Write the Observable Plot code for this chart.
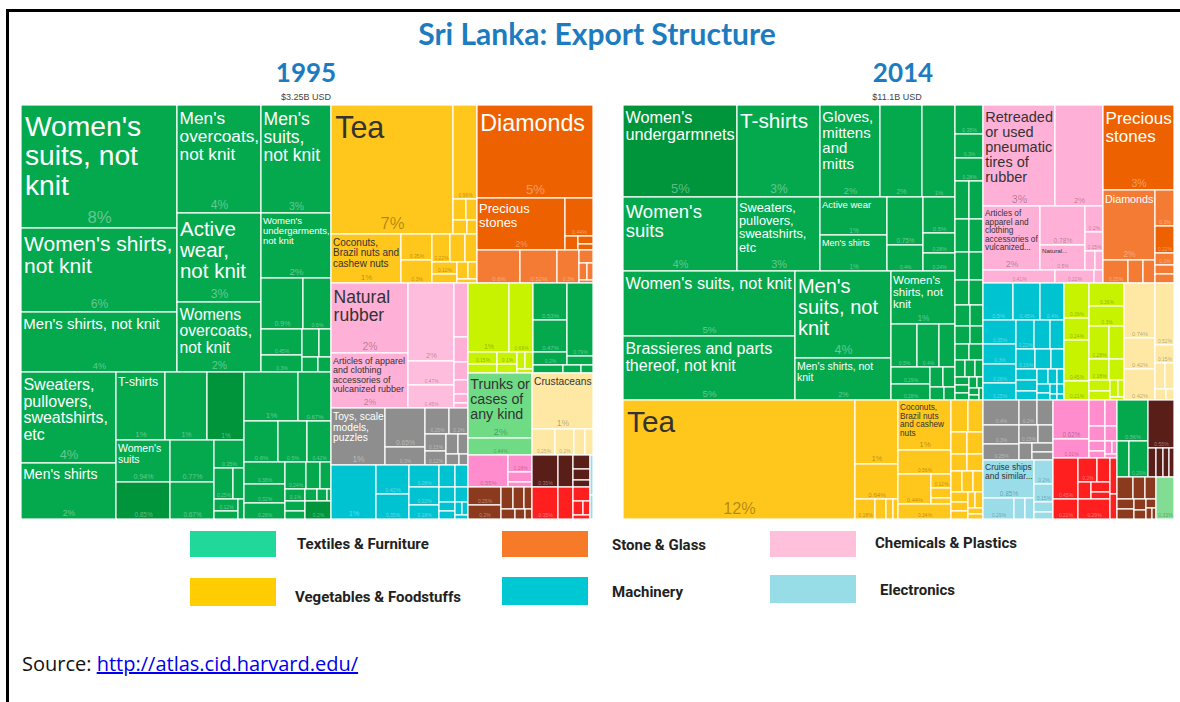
<!DOCTYPE html>
<html>
<head>
<meta charset="utf-8">
<script src="https://cdn.jsdelivr.net/npm/d3@7"></script>
<script src="https://cdn.jsdelivr.net/npm/@observablehq/plot@0.6"></script>
<style>
  html, body { margin: 0; padding: 0; background: #fff; }
  body { width: 1180px; height: 702px; overflow: hidden; position: relative; }
  #frame { position: absolute; left: 6px; top: 9px; width: 1200px; height: 720px; border: 3px solid #000; box-sizing: border-box; }
  #title { position: absolute; left: 7px; width: 1180px; top: 18px; text-align: center; font: 700 30px/30px Lato, sans-serif; color: #1c7cbf; }
  .year { position: absolute; top: 59px; width: 200px; text-align: center; font: 700 26px/26px Lato, sans-serif; color: #1c7cbf; }
  .sub { position: absolute; top: 92px; width: 200px; text-align: center; font: 9px/10px "Liberation Sans", Arial, sans-serif; color: #444; }
  .tm { position: absolute; top: 105px; }
  .tm svg { display: block; }
  .sw { position: absolute; width: 86px; }
  .lg { position: absolute; font: 700 15px/16px Roboto, sans-serif; color: #222; white-space: nowrap; }
  #source { position: absolute; left: 22px; top: 652px; font: 20px/24px "Open Sans", sans-serif; color: #111; }
  #source a { color: #0000ee; text-decoration: underline; }
</style>
</head>
<body>
<div id="frame"></div>
<div id="title"></div>
<div id="heads"></div>
<div id="tm95" class="tm" style="left:21px"></div>
<div id="tm14" class="tm" style="left:623px"></div>
<div id="legend"></div>
<div id="source"></div>
<script>
// ================= TEXT =================
const chartTitle = "Sri Lanka: Export Structure";
const years = ["1995", "2014"];
const totals = ["$3.25B USD", "$11.1B USD"];
const sourceLabel = "Source: ";
const sourceUrl = "http://atlas.cid.harvard.edu/";

// ================= DATA: share of total exports (%) =================
// ---- 1995 ----
const g95aNames = ["Women's suits, not knit", "Women's shirts, not knit", "Men's shirts, not knit"];
const g95a = [8.05, 5.5, 3.93];
const g95bNames = ["Men's overcoats, not knit", "Active wear, not knit", "Womens overcoats, not knit"];
const g95b = [3.83, 3.16, 2.48];
const g95cNames = ["Men's suits, not knit", "Women's undergarments, not knit"];
const g95c = [3.19, 1.92];
const g95cSmall = [0.9, 0.6, 0.45, 0.3, 0.2, 0.15, 0.1, 0.08];
const g95dNames = ["Sweaters, pullovers, sweatshirts, etc", "Men's shirts"];
const g95d = [3.65, 2.25];
const g95eRowNames = ["T-shirts", ""];
const g95eRow = [1.38, 1.21];
const g95eRowDark = [1.06];
const g95eSuitsNames = ["Women's suits"];
const g95eSuits = [0.94];
const g95eSuitsDark = [0.85];
const g95eCol = [0.77, 0.67];
const g95eSmall = [0.35, 0.25, 0.15, 0.12, 0.08, 0.05];
const g95f = [1.12, 0.67, 0.6, 0.5, 0.42, 0.38, 0.32, 0.28, 0.24, 0.16, 0.13, 0.1, 0.08, 0.07, 0.06, 0.05, 0.02];
const g95fDark = [0.2];
const tea95Names = ["Tea"];
const tea95 = [6.59];
const veg95Strip = [0.96];
const veg95StripSmall = [0.12, 0.1, 0.08, 0.06];
const nuts95Names = ["Coconuts, Brazil nuts and cashew nuts"];
const nuts95 = [1.45];
const veg95Small = [0.35, 0.3, 0.22, 0.18, 0.15, 0.12, 0.1, 0.08, 0.06, 0.04];
const diam95Names = ["Diamonds"];
const diam95 = [4.52];
const prec95Names = ["Precious stones"];
const prec95 = [1.94];
const stone95Side = [0.44];
const stone95SideSmall = [0.08, 0.05, 0.04];
const stone95Row = [0.6, 0.52, 0.3];
const stone95RowSmall = [0.08, 0.06, 0.04, 0.02];
const chem95Names = ["Natural rubber", "Articles of apparel and clothing accessories of vulcanized rubber"];
const chem95 = [2.25, 1.8];
const chem95Col = [1.5, 0.47, 0.45];
const chem95Small = [0.3, 0.14, 0.1, 0.08, 0.05, 0.03];
const toys95Names = ["Toys, scale models, puzzles"];
const toys95 = [1.28];
const toys95Small = [0.65, 0.3, 0.25, 0.2, 0.15, 0.12, 0.1, 0.08, 0.06, 0.04];
const mach95 = [1.02, 0.42, 0.35, 0.28, 0.22, 0.18, 0.15, 0.12, 0.1, 0.08, 0.06, 0.05, 0.04, 0.03, 0.02];
const lime95 = [1.18, 0.69];
const lime95Small = [0.15, 0.12, 0.1, 0.08, 0.06, 0.05, 0.03];
const green95A = [0.53, 0.47, 0.2];
const green95B = [0.79, 0.1];
const green95Small = [0.1, 0.06, 0.04];
const trunks95Names = ["Trunks or cases of any kind"];
const trunks95 = [1.76, 0.44];
const crust95Names = ["Crustaceans"];
const crust95 = [1.44];
const crust95Small = [0.25, 0.2, 0.12, 0.08];
const mag95 = [0.55];
const mag95Small = [0.18, 0.1, 0.05];
const brown95 = [0.25, 0.2, 0.12, 0.1, 0.08, 0.06, 0.04, 0.03];
const dbrown95 = [0.35, 0.2];
const dbrown95Small = [0.1, 0.08, 0.05];
const red95 = [0.35, 0.2];
const red95Small = [0.1, 0.06, 0.04, 0.03];
const elec95 = [0.05, 0.03];

// ---- 2014 ----
const g14aNames = ["Women's undergarmnets"];
const g14aDark = [4.6];
const g14bNames = ["Women's suits"];
const g14b = [3.65];
const g14cNames = ["T-shirts", "Sweaters, pullovers, sweatshirts, etc"];
const g14c = [3.35, 2.66];
const g14dNames = ["Gloves, mittens and mitts", "", ""];
const g14d = [2.42, 1.69, 1.33];
const g14eNames = ["Active wear", "Men's shirts"];
const g14e = [1.12, 1.03];
const g14eSmallA = [0.75, 0.4];
const g14eSmallB = [0.5, 0.28, 0.24];
const g14fNames = ["Women's suits, not knit", "Brassieres and parts thereof, not knit"];
const g14f = [4.9, 4.83];
const g14gNames = ["Men's suits, not knit", "Men's shirts, not knit"];
const g14g = [3.66, 1.77];
const g14hNames = ["Women's shirts, not knit"];
const g14h = [1.49];
const g14hRow = [0.5, 0.4, 0.3];
const g14hCol = [0.29, 0.28];
const g14hSmall = [0.12, 0.1, 0.08, 0.06];
const g14Side = [0.35, 0.3, 0.28, 0.25, 0.22, 0.2, 0.2, 0.18, 0.16, 0.16, 0.15, 0.14, 0.12, 0.12, 0.1, 0.1, 0.09, 0.08, 0.07, 0.06, 0.05, 0.05, 0.04, 0.04, 0.03, 0.03, 0.02, 0.02];
const tea14Names = ["Tea"];
const tea14 = [12.1];
const veg14B = [1.19, 0.64];
const veg14BRow = [0.18, 0.1, 0.06, 0.04];
const veg14CNames = ["Coconuts, Brazil nuts and cashew nuts", ""];
const veg14C = [1.18, 0.56];
const veg14CRow = [0.44];
const veg14CRowSmall = [0.12, 0.08, 0.06];
const veg14CBottom = [0.34];
const veg14Small = [0.25, 0.2, 0.15, 0.15, 0.12, 0.12, 0.1, 0.1, 0.08, 0.08, 0.07, 0.06, 0.05, 0.05, 0.04, 0.03];
const chem14Names = ["Retreaded or used pneumatic tires of rubber", ""];
const chem14 = [3.2, 2.1];
const chem14ArtNames = ["Articles of apparel and clothing accessories of vulcanized..."];
const chem14Art = [1.6];
const chem14ColNames = ["", "Natural..."];
const chem14Col = [0.78, 0.5];
const chem14Small = [0.2, 0.15, 0.08, 0.06];
const chem14Row = [0.41, 0.22, 0.05];
const prec14Names = ["Precious stones"];
const prec14 = [2.65];
const diam14Names = ["Diamonds"];
const diam14 = [1.6];
const diam14Row = [0.25, 0.15, 0.12];
const stone14ColLight = [0.3];
const stone14ColDark = [0.22];
const stone14ColSmall = [0.1, 0.08, 0.07];
const mach14 = [0.5, 0.45, 0.4, 0.35, 0.3, 0.28, 0.25, 0.22, 0.2, 0.18, 0.16, 0.14, 0.12, 0.1, 0.1, 0.08, 0.07, 0.06, 0.05, 0.05, 0.04, 0.03, 0.03, 0.02, 0.02];
const lime14L = [0.39, 0.24, 0.45, 0.21];
const lime14R = [0.36, 0.3];
const lime14Small = [0.28, 0.22, 0.18, 0.14, 0.1, 0.08, 0.06, 0.05, 0.02];
const crust14L = [0.74, 0.42, 0.42];
const crust14R = [0.52];
const crust14Small = [0.15, 0.12, 0.1, 0.05, 0.04];
const gray14 = [0.4, 0.3, 0.25, 0.2, 0.17, 0.15, 0.12, 0.1, 0.08, 0.07];
const elec14Names = ["Cruise ships and similar..."];
const elec14 = [0.85];
const elec14Row = [0.29, 0.1, 0.08];
const elec14Col = [0.2, 0.15, 0.08, 0.06];
const mag14 = [0.62, 0.31];
const mag14Small = [0.18, 0.13, 0.1, 0.08, 0.07, 0.05, 0.04, 0.03, 0.02];
const red14A = [0.45, 0.22];
const red14B = [0.2, 0.14, 0.1, 0.08, 0.06];
const red14BBottom = [0.29];
const red14C = [0.1, 0.07];
const green14 = [0.56];
const green14Row = [0.2, 0.29];
const dbrown14 = [0.55];
const dbrown14Row = [0.1, 0.09, 0.08, 0.06];
const brown14 = [0.15, 0.12, 0.1, 0.08, 0.07, 0.06, 0.05, 0.04, 0.03, 0.02];
const lgreen14 = [0.33];

// ---- categories / colours ----
const catKeys  = ["tex", "texD", "veg", "stone", "stoneL", "chem", "chemL", "gray", "mach", "elec", "lime", "trunks", "beige", "magenta", "dbrown", "brown", "red", "lgreen"];
const catFills = ["#04a94e", "#00953a", "#ffc61c", "#ee6100", "#f47b33", "#ffb0d6", "#ffbddd", "#8e8e8e", "#00c3d2", "#9adde9", "#c8f300", "#6fdc85", "#ffe8a4", "#ff8ccd", "#5a1e19", "#8b3a1e", "#ff1f1f", "#83dc94"];
const darkCats = new Set(["tex", "texD", "stone", "stoneL", "gray", "mach", "dbrown", "brown", "red"]);

const legendLabels = ["Textiles & Furniture", "Stone & Glass", "Chemicals & Plastics", "Vegetables & Foodstuffs", "Machinery", "Electronics"];
const legendColors = ["#20d89a", "#f67a28", "#ffc0dc", "#ffcd00", "#00c8d3", "#97dde7"];

// ================= HIERARCHY =================
const L = (cat, values, names = []) => values.map((value, i) => ({cat, value, name: names[i] || ""}));
const H = (...c) => ({dir: "h", children: c.flat()});
const V = (...c) => ({dir: "v", children: c.flat()});
const S = (...c) => ({dir: "s", children: c.flat()});

const tree95 = H(
  V(
    H(
      V(L("tex", g95a, g95aNames)),
      V(L("tex", g95b, g95bNames)),
      V(L("tex", g95c, g95cNames), S(L("tex", g95cSmall)))
    ),
    H(
      V(L("tex", g95d, g95dNames)),
      V(
        H(L("tex", g95eRow, g95eRowNames), L("texD", g95eRowDark)),
        H(V(L("tex", g95eSuits, g95eSuitsNames), L("texD", g95eSuitsDark)), V(L("tex", g95eCol)), S(L("tex", g95eSmall)))
      ),
      S(L("tex", g95f), L("texD", g95fDark))
    )
  ),
  V(
    H(
      V(
        H(L("veg", tea95, tea95Names), V(L("veg", veg95Strip), S(L("veg", veg95StripSmall)))),
        H(L("veg", nuts95, nuts95Names), S(L("veg", veg95Small)))
      ),
      V(
        L("stone", diam95, diam95Names),
        H(L("stone", prec95, prec95Names), V(L("stone", stone95Side), S(L("stone", stone95SideSmall)))),
        H(L("stoneL", stone95Row), S(L("stoneL", stone95RowSmall)))
      )
    ),
    H(
      V(
        H(V(L("chem", chem95, chem95Names)), V(L("chemL", chem95Col)), V(L("chem", chem95Small))),
        H(L("gray", toys95, toys95Names), S(L("gray", toys95Small))),
        S(L("mach", mach95))
      ),
      V(
        H(
          V(H(L("lime", lime95)), S(L("lime", lime95Small))),
          V(H(V(L("tex", green95A)), V(L("tex", green95B))), S(L("tex", green95Small)))
        ),
        H(
          V(L("trunks", trunks95, trunks95Names)),
          V(L("beige", crust95, crust95Names), H(L("beige", crust95Small)))
        ),
        H(
          V(H(L("magenta", mag95), V(L("magenta", mag95Small))), S(L("brown", brown95))),
          V(H(L("dbrown", dbrown95), V(L("dbrown", dbrown95Small))), H(L("red", red95), S(L("red", red95Small)))),
          V(L("elec", elec95))
        )
      )
    )
  )
);

const tree14 = H(
  V(
    H(
      V(
        H(
          V(L("texD", g14aDark, g14aNames), L("tex", g14b, g14bNames)),
          V(L("tex", g14c, g14cNames)),
          V(H(L("tex", g14d, g14dNames)), H(V(L("tex", g14e, g14eNames)), V(L("tex", g14eSmallA)), V(L("tex", g14eSmallB))))
        ),
        H(
          V(L("tex", g14f, g14fNames)),
          V(L("tex", g14g, g14gNames)),
          V(L("tex", g14h, g14hNames), H(L("tex", g14hRow)), H(V(L("tex", g14hCol)), S(L("tex", g14hSmall))))
        )
      ),
      S(L("tex", g14Side))
    ),
    H(
      L("veg", tea14, tea14Names),
      V(L("veg", veg14B), H(L("veg", veg14BRow))),
      V(L("veg", veg14C, veg14CNames), H(L("veg", veg14CRow), V(L("veg", veg14CRowSmall))), L("veg", veg14CBottom)),
      S(L("veg", veg14Small))
    )
  ),
  V(
    H(
      V(
        H(L("chem", chem14, chem14Names)),
        H(L("chem", chem14Art, chem14ArtNames), V(L("chem", chem14Col, chem14ColNames)), S(L("chem", chem14Small))),
        H(L("chem", chem14Row))
      ),
      V(
        L("stone", prec14, prec14Names),
        H(
          V(L("stoneL", diam14, diam14Names), H(L("stoneL", diam14Row))),
          V(L("stoneL", stone14ColLight), L("stone", stone14ColDark), L("stoneL", stone14ColSmall))
        )
      )
    ),
    H(
      S(L("mach", mach14)),
      H(V(L("lime", lime14L)), V(L("lime", lime14R), S(L("lime", lime14Small)))),
      H(V(L("beige", crust14L)), V(L("beige", crust14R), S(L("beige", crust14Small))))
    ),
    H(
      V(S(L("gray", gray14)), H(V(L("elec", elec14, elec14Names), H(L("elec", elec14Row))), V(L("elec", elec14Col)))),
      V(H(V(L("magenta", mag14)), S(L("magenta", mag14Small))), H(V(L("red", red14A)), V(S(L("red", red14B)), L("red", red14BBottom)), V(L("red", red14C)))),
      V(
        H(V(L("tex", green14), H(L("tex", green14Row))), V(L("dbrown", dbrown14), H(L("dbrown", dbrown14Row)))),
        H(S(L("brown", brown14)), L("lgreen", lgreen14))
      )
    )
  )
);

// ================= LAYOUT HELPERS =================
const FONT = '"Liberation Sans", Arial, Helvetica, sans-serif';
const LH = 1.04;
const ctx = document.createElement("canvas").getContext("2d");
function measure(t, fs) { ctx.font = `${fs}px ${FONT}`; return ctx.measureText(t).width; }
function wrap(text, fs, maxW) {
  const words = text.split(" "), lines = [];
  let cur = "";
  for (const w of words) {
    const t = cur ? cur + " " + w : w;
    if (!cur || measure(t, fs) <= maxW) cur = t; else { lines.push(cur); cur = w; }
  }
  if (cur) lines.push(cur);
  return lines;
}
function fit(text, w, h, reserve) {
  for (let fs = Math.min(32, 0.25 * Math.min(w, h)); fs >= 4; fs -= 0.25) {
    const pad = Math.max(1.5, fs * 0.12);
    const lines = wrap(text, fs, w - 2 * pad);
    const widest = d3.max(lines, l => measure(l, fs));
    const used = fs * 0.3 + 1 + lines.length * fs * LH;
    if (widest <= w - 2 * pad && used <= Math.min(h * 0.8, h - reserve)) return {fs, lines, pad};
  }
  return {fs: 4, lines: wrap(text, 4, w - 3), pad: 1.5};
}
function tile(node, x0, y0, x1, y1) {
  const dir = node.data.dir;
  if (dir === "h") d3.treemapDice(node, x0, y0, x1, y1);
  else if (dir === "v") d3.treemapSlice(node, x0, y0, x1, y1);
  else d3.treemapSquarify(node, x0, y0, x1, y1);
}
const pctSize = (w, h) => Math.max(5, Math.min(17, Math.min(w, h) * 0.12 + 2));

function drawTreemap(tree, W, Ht) {
  const root = d3.hierarchy(tree).sum(d => d.children ? 0 : d.value);
  d3.treemap().tile(tile).size([W, Ht]).round(true)(root);
  const cells = root.leaves().map(n => ({
    cat: n.data.cat, name: n.data.name, value: n.data.value,
    left: n.x0, right: n.x1, top: n.y0, bottom: n.y1
  }));
  const pcts = cells.map(c => {
    const w = c.right - c.left, h = c.bottom - c.top;
    const fs = pctSize(w, h);
    const text = c.value >= 1 ? `${Math.round(c.value)}%` : `${+c.value.toFixed(2)}%`;
    return {...c, fs, text, cx: (c.left + c.right) / 2, by: c.bottom - 1.5 - fs * 0.22,
            ok: w >= 18 && h >= 12 && measure(text, fs) < w - 2};
  }).filter(d => d.ok);
  const labels = cells.filter(c => c.name).map(c => {
    const w = c.right - c.left, h = c.bottom - c.top;
    const f = fit(c.name, w, h, pctSize(w, h) * 1.25 + 2);
    return {...c, fs: f.fs, text: f.lines.join("\n"), lx: c.left + f.pad, ly: c.top + f.fs * 0.3 + 1};
  });
  const dark = d => darkCats.has(d.cat);
  const light = d => !darkCats.has(d.cat);
  return Plot.plot({
    width: W, height: Ht, margin: 0,
    x: {domain: [0, W], range: [0, W], axis: null},
    y: {domain: [0, Ht], range: [0, Ht], axis: null},
    color: {type: "ordinal", domain: catKeys, range: catFills},
    marks: [
      Plot.rect(cells, {x1: "left", x2: "right", y1: "top", y2: "bottom", fill: "cat", stroke: "white", strokeWidth: 1.2}),
      Plot.text(pcts.filter(dark), {x: "cx", y: "by", text: "text", fontSize: d => d.fs, fill: "white", fillOpacity: 0.38, textAnchor: "middle", lineAnchor: "bottom", fontFamily: FONT}),
      Plot.text(pcts.filter(light), {x: "cx", y: "by", text: "text", fontSize: d => d.fs, fill: "black", fillOpacity: 0.32, textAnchor: "middle", lineAnchor: "bottom", fontFamily: FONT}),
      Plot.text(labels.filter(dark), {x: "lx", y: "ly", text: "text", fontSize: d => d.fs, fill: "white", textAnchor: "start", lineAnchor: "top", lineHeight: LH, fontFamily: FONT}),
      Plot.text(labels.filter(light), {x: "lx", y: "ly", text: "text", fontSize: d => d.fs, fill: "#333", textAnchor: "start", lineAnchor: "top", lineHeight: LH, fontFamily: FONT})
    ]
  });
}

// ================= RENDER =================
document.getElementById("title").textContent = chartTitle;
const headCenters = [306, 903];
const subCenters = [306, 897];
const heads = document.getElementById("heads");
years.forEach((y, i) => {
  const a = document.createElement("div");
  a.className = "year"; a.style.left = (headCenters[i] - 100) + "px"; a.textContent = y;
  const b = document.createElement("div");
  b.className = "sub"; b.style.left = (subCenters[i] - 100) + "px"; b.textContent = totals[i];
  heads.append(a, b);
});

document.getElementById("tm95").append(drawTreemap(tree95, 572, 414));
document.getElementById("tm14").append(drawTreemap(tree14, 551, 414));

const swPos = [[190, 531, 26], [502, 531, 26], [770, 531, 26], [190, 578, 28], [502, 577, 28], [770, 575, 28]];
const lgPos = [[297, 536], [612, 537], [875, 535], [295, 589], [612, 584], [880, 582]];
const legend = document.getElementById("legend");
legendLabels.forEach((lab, i) => {
  const s = document.createElement("div");
  s.className = "sw";
  s.style.left = swPos[i][0] + "px"; s.style.top = swPos[i][1] + "px"; s.style.height = swPos[i][2] + "px";
  s.style.background = legendColors[i];
  const t = document.createElement("div");
  t.className = "lg";
  t.style.left = lgPos[i][0] + "px"; t.style.top = lgPos[i][1] + "px";
  t.textContent = lab;
  legend.append(s, t);
});

const src = document.getElementById("source");
src.append(document.createTextNode(sourceLabel));
const link = document.createElement("a");
link.href = sourceUrl; link.textContent = sourceUrl;
src.append(link);
</script>
</body>
</html>
